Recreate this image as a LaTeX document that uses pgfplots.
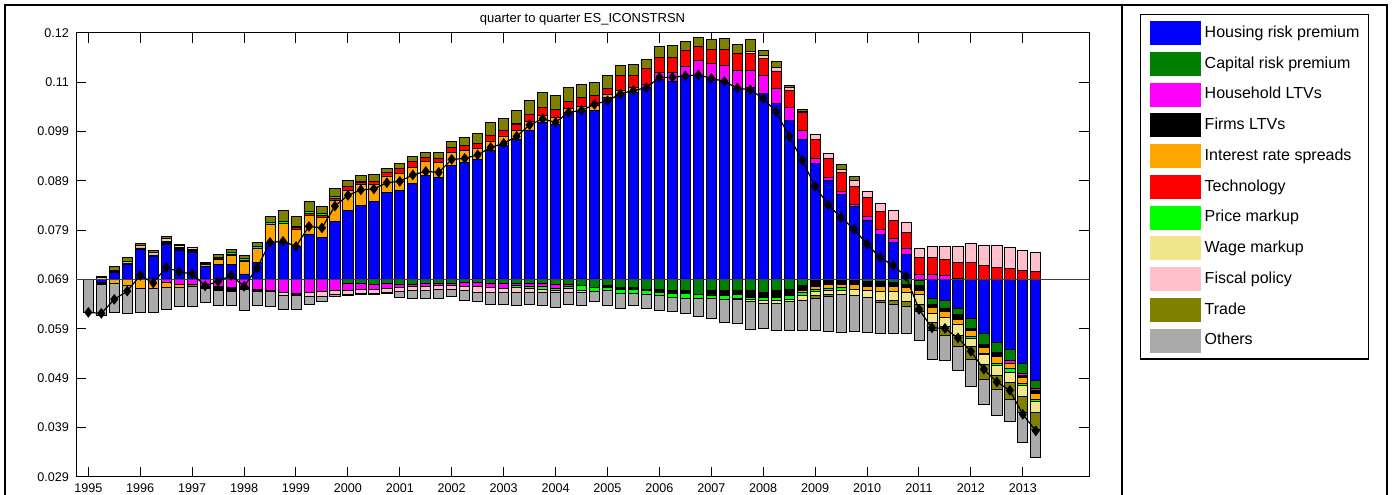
\documentclass[border=0pt]{standalone}
\usepackage{fontspec}
\setmainfont{Liberation Sans}
\usepackage{pgfplots}
\usepackage{pgfplotstable}
\pgfplotsset{compat=1.18}
\definecolor{cHouse}{RGB}{0,0,255}
\definecolor{cCap}{RGB}{0,128,0}
\definecolor{cHhl}{RGB}{255,0,255}
\definecolor{cFirm}{RGB}{0,0,0}
\definecolor{cIR}{RGB}{255,165,0}
\definecolor{cTech}{RGB}{255,0,0}
\definecolor{cPM}{RGB}{0,255,0}
\definecolor{cWM}{RGB}{240,230,140}
\definecolor{cFP}{RGB}{255,192,203}
\definecolor{cTR}{RGB}{128,128,0}
\definecolor{cOth}{RGB}{170,170,170}
% positive contributions above the steady state B = 0.069; L = level of the series (black line)
\pgfplotstableread{
x B L H C HL FL IR T PM WM FP TR O
0 0.069 0.06231 0 0 0 0 0 0 0 0 0 0 0
1 0.069 0.06211 0 0 0 0 0 0 0 0 0.00041 0.00020 0
2 0.069 0.06495 0.00142 0 0 0.00020 0 0 0 0 0.00030 0.00061 0
3 0.069 0.06663 0.00304 0 0 0.00030 0 0 0 0 0.00030 0.00081 0
4 0.069 0.06981 0.00608 0 0 0.00030 0 0 0 0 0.00051 0.00041 0
5 0.069 0.06829 0.00466 0 0 0.00030 0 0 0 0 0.00051 0.00041 0
6 0.069 0.07143 0.00709 0 0 0.00061 0 0 0 0 0.00061 0.00041 0
7 0.069 0.07052 0.00594 0 0 0.00030 0 0 0.00026 0 0.00041 0.00018 0
8 0.069 0.07011 0.00547 0 0 0.00051 0 0 0 0 0.00051 0 0
9 0.069 0.06768 0.00253 0 0 0 0.00047 0 0.00016 0 0 0.00034 0
10 0.069 0.06859 0.00304 0 0 0 0.00111 0.00020 0.00020 0 0 0.00045 0
11 0.069 0.06981 0.00304 0 0 0 0.00176 0.00034 0.00026 0 0 0.00067 0
12 0.069 0.06758 0.00111 0 0 0 0.00249 0.00034 0.00026 0 0 0.00071 0
13 0.069 0.07129 0.00345 0 0 0 0.00284 0 0.00034 0 0 0.00087 0
14 0.069 0.07650 0.00750 0 0 0 0.00365 0 0.00030 0 0 0.00138 0
15 0.069 0.07670 0.00750 0 0 0 0.00385 0 0.00034 0 0 0.00223 0
16 0.069 0.07569 0.00663 0 0 0 0.00351 0.00030 0.00034 0 0 0.00203 0
17 0.069 0.07974 0.00906 0 0 0 0.00391 0.00047 0.00034 0 0 0.00209 0
18 0.069 0.07944 0.00845 0 0 0 0.00405 0.00055 0.00034 0 0 0.00146 0
19 0.069 0.08386 0.01176 0 0 0 0.00420 0.00055 0.00034 0 0 0.00154 0
20 0.069 0.08603 0.01393 0 0 0 0.00405 0.00081 0 0 0 0.00134 0
21 0.069 0.08714 0.01506 0 0 0 0.00411 0.00041 0.00034 0 0 0.00116 0
22 0.069 0.08734 0.01575 0 0 0 0.00359 0.00061 0 0 0 0.00128 0
23 0.069 0.08860 0.01757 0 0 0 0.00339 0.00075 0 0 0 0.00073 0
24 0.069 0.08886 0.01798 0 0 0 0.00345 0.00101 0 0 0 0.00114 0
25 0.069 0.09018 0.01946 0 0 0 0.00324 0.00114 0 0 0 0.00116 0
26 0.069 0.09089 0.02102 0 0 0 0.00290 0.00087 0 0 0 0.00101 0
27 0.069 0.09069 0.02068 0 0 0 0.00310 0.00081 0 0 0 0.00109 0
28 0.069 0.09332 0.02305 0 0 0 0.00264 0.00107 0 0 0 0.00116 0
29 0.069 0.09353 0.02372 0 0 0 0.00243 0.00107 0 0 0 0.00156 0
30 0.069 0.09424 0.02438 0 0 0 0.00217 0.00107 0 0 0 0.00197 0
31 0.069 0.09576 0.02609 0 0 0 0.00197 0.00122 0 0 0 0.00261 0
32 0.069 0.09657 0.02710 0 0 0 0.00197 0.00122 0 0 0 0.00235 0
33 0.069 0.09799 0.02844 0 0 0 0.00176 0.00128 0 0.00020 0 0.00264 0
34 0.069 0.10032 0.03026 0 0 0 0.00176 0.00136 0 0 0 0.00296 0
35 0.069 0.10153 0.03182 0 0 0 0.00150 0.00150 0 0 0 0.00302 0
36 0.069 0.10082 0.03148 0 0 0 0.00136 0.00156 0 0 0 0.00296 0
37 0.069 0.10285 0.03385 0 0 0 0.00087 0.00136 0 0 0 0.00284 0
38 0.069 0.10326 0.03420 0 0 0 0.00081 0.00195 0 0 0 0.00264 0
39 0.069 0.10447 0.03420 0 0 0 0.00101 0.00203 0 0 0 0.00270 0
40 0.069 0.10522 0.03689 0 0 0 0.00067 0.00116 0 0 0 0.00270 0
41 0.069 0.10660 0.03756 0 0 0 0.00067 0.00304 0 0 0 0.00217 0
42 0.069 0.10731 0.03790 0 0 0 0.00101 0.00249 0 0 0 0.00223 0
43 0.069 0.10782 0.03892 0 0.00067 0 0 0.00310 0 0 0 0.00197 0
44 0.069 0.10995 0.04060 0 0.00136 0 0 0.00304 0 0 0 0.00217 0
45 0.069 0.10995 0.04007 0 0.00189 0 0 0.00304 0 0 0 0.00237 0
46 0.069 0.11025 0.04129 0 0.00189 0 0 0.00318 0 0 0 0.00182 0
47 0.069 0.11045 0.04141 0 0.00290 0 0 0.00290 0 0 0 0.00178 0
48 0.069 0.10974 0.04060 0 0.00310 0 0 0.00298 0 0 0 0.00203 0
49 0.069 0.10913 0.03993 0 0.00339 0 0 0.00324 0 0 0 0.00229 0
50 0.069 0.10778 0.03878 0 0.00359 0 0 0.00351 0 0 0 0.00182 0
51 0.069 0.10741 0.03892 0 0.00351 0 0 0.00339 0 0 0.00047 0.00231 0
52 0.069 0.10569 0.03776 0 0.00351 0 0 0.00345 0 0 0.00067 0.00109 0
53 0.069 0.10295 0.03568 0 0.00298 0 0 0.00359 0 0 0.00067 0.00128 0
54 0.069 0.09799 0.03229 0 0.00264 0 0 0.00330 0 0 0.00067 0.00049 0
55 0.069 0.09312 0.02844 0 0.00176 0 0 0.00371 0 0 0.00020 0.00041 0
56 0.069 0.08785 0.02357 0 0.00095 0 0 0.00385 0 0 0.00095 0 0
57 0.069 0.08410 0.02001 0 0.00061 0 0 0.00391 0 0 0.00107 0 0
58 0.069 0.08157 0.01729 0 0.00047 0 0 0.00385 0 0 0.00067 0.00109 0
59 0.069 0.07914 0.01480 0 0.00041 0 0 0.00371 0 0 0.00107 0.00095 0
60 0.069 0.07616 0.01202 0 0.00081 0 0 0.00371 0 0 0.00136 0 0
61 0.069 0.07346 0.00918 0 0.00101 0 0 0.00359 0 0 0.00162 0 0
62 0.069 0.07184 0.00750 0 0.00087 0 0 0.00351 0 0 0.00205 0 0
63 0.069 0.06961 0.00501 0 0.00136 0 0 0.00318 0 0 0.00201 0 0
64 0.069 0.06292 0 0 0.00101 0 0 0.00345 0 0 0.00176 0 0
65 0.069 0.05917 0 0 0.00101 0 0 0.00339 0 0 0.00223 0 0
66 0.069 0.05907 0 0 0.00075 0 0 0.00324 0 0 0.00264 0 0
67 0.069 0.05714 0 0 0.00020 0 0 0.00324 0 0 0.00318 0 0
68 0.069 0.05441 0 0 0 0 0 0.00345 0 0 0.00385 0 0
69 0.069 0.05076 0 0 0 0 0 0.00290 0 0 0.00405 0 0
70 0.069 0.04822 0 0 0 0 0 0.00243 0 0 0.00440 0 0
71 0.069 0.04650 0 0 0 0 0 0.00223 0 0 0.00426 0 0
72 0.069 0.04164 0 0 0 0 0 0.00189 0 0 0.00405 0 0
73 0.069 0.03829 0 0 0 0 0 0.00162 0 0 0.00379 0 0
}\postab
% negative contributions, given as their size below 0.069;
% Bot = lower end of each negative stack (= 0.069 minus the sizes)
\pgfplotstableread{
x Bot O TR FP WM PM T IR FL HL C H
0 0.06231 0.00669 0 0 0 0 0 0 0 0 0 0
1 0.06164 0.00634 0 0 0 0 0 0 0.00041 0 0 0.00061
2 0.06231 0.00594 0 0 0 0 0 0.00075 0 0 0 0
3 0.06216 0.00568 0 0 0 0 0 0.00116 0 0 0 0
4 0.06238 0.00486 0 0 0 0 0 0.00176 0 0 0 0
5 0.06232 0.00486 0 0 0 0 0 0.00182 0 0 0 0
6 0.06286 0.00446 0 0 0 0 0 0.00107 0 0.00061 0 0
7 0.06345 0.00385 0 0 0 0 0 0.00075 0 0.00095 0 0
8 0.06360 0.00399 0.00034 0 0 0 0 0 0 0.00107 0 0
9 0.06433 0.00274 0 0 0 0 0 0 0.00051 0.00142 0 0
10 0.06381 0.00290 0 0 0 0 0 0 0.00081 0.00148 0 0
11 0.06379 0.00284 0 0 0 0 0 0 0.00075 0.00162 0 0
12 0.06271 0.00416 0 0 0 0 0 0 0.00051 0.00162 0 0
13 0.06366 0.00284 0 0 0 0 0 0 0.00041 0.00209 0 0
14 0.06353 0.00296 0 0 0 0 0 0 0.00034 0.00217 0 0
15 0.06285 0.00284 0 0.00067 0 0 0 0 0 0.00264 0 0
16 0.06291 0.00290 0 0 0 0 0 0 0.00041 0.00278 0 0
17 0.06387 0.00162 0 0.00087 0 0 0 0 0 0.00264 0 0
18 0.06455 0.00095 0 0.00101 0 0 0 0 0 0.00249 0 0
19 0.06549 0.00055 0 0.00067 0 0 0 0 0 0.00229 0 0
20 0.06582 0.00020 0 0.00081 0 0 0 0 0 0.00142 0.00075 0
21 0.06602 0.00020 0 0.00081 0 0 0 0 0 0.00122 0.00075 0
22 0.06603 0.00020 0 0.00075 0 0 0 0 0 0.00107 0.00095 0
23 0.06623 0.00014 0 0.00081 0 0 0 0 0 0.00107 0.00075 0
24 0.06535 0.00122 0 0.00081 0 0 0 0 0 0.00067 0.00095 0
25 0.06515 0.00154 0 0.00081 0 0 0 0 0 0.00055 0.00095 0
26 0.06515 0.00170 0 0.00067 0 0 0 0 0 0.00067 0.00081 0
27 0.06514 0.00189 0 0.00067 0 0 0 0 0 0.00055 0.00075 0
28 0.06555 0.00136 0 0.00081 0 0 0 0 0 0.00047 0.00081 0
29 0.06480 0.00191 0 0.00087 0 0 0 0 0 0.00081 0.00061 0
30 0.06454 0.00182 0 0.00122 0 0 0 0 0 0.00081 0.00061 0
31 0.06400 0.00237 0 0.00101 0 0 0 0 0 0.00081 0.00081 0
32 0.06400 0.00237 0 0.00087 0 0 0 0 0 0.00095 0.00081 0
33 0.06379 0.00257 0 0.00101 0 0.00041 0 0 0 0.00047 0.00075 0
34 0.06399 0.00237 0 0.00087 0 0.00041 0 0 0 0.00061 0.00075 0
35 0.06379 0.00259 0 0.00067 0 0.00047 0 0 0 0.00067 0.00081 0
36 0.06333 0.00304 0 0.00047 0 0.00034 0 0 0 0.00087 0.00095 0
37 0.06387 0.00249 0 0.00087 0 0.00041 0 0 0 0.00041 0.00095 0
38 0.06366 0.00272 0 0.00047 0 0.00087 0 0 0 0 0.00128 0
39 0.06448 0.00209 0 0 0 0.00081 0 0 0 0 0.00162 0
40 0.06379 0.00292 0 0 0 0.00067 0 0 0.00034 0 0.00128 0
41 0.06319 0.00298 0 0 0 0.00087 0 0 0.00034 0 0.00162 0
42 0.06368 0.00249 0 0 0 0.00087 0 0 0.00034 0 0.00162 0
43 0.06318 0.00284 0 0 0 0.00067 0 0 0.00034 0 0.00197 0
44 0.06277 0.00292 0 0 0 0.00067 0 0 0.00055 0 0.00209 0
45 0.06251 0.00286 0 0 0 0.00087 0 0 0.00047 0 0.00229 0
46 0.06211 0.00304 0 0 0 0.00101 0 0 0.00055 0 0.00229 0
47 0.06150 0.00365 0 0 0 0.00087 0 0 0 0 0.00298 0
48 0.06110 0.00407 0 0 0 0.00067 0 0 0.00087 0 0.00229 0
49 0.06029 0.00474 0 0 0 0.00067 0 0 0.00101 0 0.00229 0
50 0.06008 0.00489 0 0 0.00020 0.00087 0 0 0.00067 0 0.00229 0
51 0.05879 0.00568 0 0 0.00041 0.00047 0 0 0.00148 0 0.00217 0
52 0.05912 0.00501 0 0 0.00067 0.00055 0 0.00020 0.00081 0 0.00264 0
53 0.05872 0.00541 0 0 0.00067 0.00055 0 0 0.00136 0 0.00229 0
54 0.05857 0.00588 0 0 0.00055 0.00067 0 0 0.00136 0 0.00197 0
55 0.05861 0.00622 0 0 0.00087 0.00067 0 0.00034 0.00101 0 0.00128 0
56 0.05859 0.00665 0.00047 0 0.00087 0.00047 0 0.00047 0.00148 0 0 0
57 0.05840 0.00709 0.00041 0 0.00081 0.00055 0 0.00067 0.00107 0 0 0
58 0.05818 0.00770 0 0 0.00095 0.00055 0 0.00067 0.00095 0 0 0
59 0.05846 0.00722 0 0 0.00136 0 0 0.00101 0.00095 0 0 0
60 0.05826 0.00709 0 0 0.00136 0 0 0.00081 0.00107 0 0.00041 0
61 0.05806 0.00628 0.00047 0 0.00176 0 0 0.00095 0.00107 0 0.00041 0
62 0.05805 0.00596 0.00067 0 0.00189 0 0 0.00095 0.00087 0 0.00061 0
63 0.05807 0.00553 0.00101 0 0.00176 0 0 0.00101 0.00067 0 0.00095 0
64 0.05658 0.00600 0.00136 0 0.00203 0 0 0.00087 0.00101 0 0.00095 0.00020
65 0.05271 0.00588 0.00168 0 0.00189 0 0 0.00116 0.00067 0 0.00116 0.00385
66 0.05257 0.00503 0.00182 0 0.00189 0 0 0.00122 0.00067 0 0.00148 0.00432
67 0.05049 0.00484 0.00223 0 0.00223 0 0 0.00116 0.00087 0 0.00136 0.00582
68 0.04726 0.00551 0.00257 0 0.00168 0.00034 0 0.00122 0.00055 0 0.00203 0.00784
69 0.04371 0.00507 0.00290 0 0.00203 0.00034 0 0.00116 0.00055 0 0.00229 0.01095
70 0.04148 0.00529 0.00270 0 0.00217 0.00041 0 0.00128 0.00087 0 0.00203 0.01277
71 0.04015 0.00458 0.00339 0 0.00203 0.00081 0 0.00107 0 0.00061 0.00223 0.01413
72 0.03588 0.00614 0.00318 0 0.00223 0.00047 0 0.00122 0.00047 0.00041 0.00197 0.01703
73 0.03290 0.00574 0.00339 0 0.00223 0.00047 0 0.00116 0.00067 0.00041 0.00162 0.02041
}\negtab
\pgfplotsset{
  sbar/.style={draw=black, line width=0.4pt, fill=#1},
  hidebar/.style={draw=none, fill=none, opacity=0},
  common/.style={at={(38pt,8.65pt)}, anchor=south west, scale only axis,
    width=506.5pt, height=222pt, xmin=-0.95, xmax=77.1, ymin=0.029, ymax=0.119},
}
\begin{document}
\begin{tikzpicture}
\path[use as bounding box] (0,0) rectangle (697.5pt,247pt);
\draw[line width=0.9pt] (2.3pt,-2pt) -- (2.3pt,244.6pt) -- (693.3pt,244.6pt) -- (693.3pt,-2pt);
\draw[line width=0.9pt] (560.8pt,-2pt) -- (560.8pt,244.6pt);
% negative contributions: stacked upward from their lower end to 0.069
\begin{axis}[common, ybar stacked, bar width=0.78,
  xtick={0,4,8,12,16,20,24,28,32,36,40,44,48,52,56,60,64,68,72},
  xticklabels={1995,1996,1997,1998,1999,2000,2001,2002,2003,2004,2005,2006,2007,2008,2009,2010,2011,2012,2013},
  ytick={0.029,0.039,0.049,0.059,0.069,0.079,0.089,0.099,0.109,0.119},
  yticklabels={0.029,0.039,0.049,0.059,0.069,0.079,0.089,0.099,0.11,0.12},
  scaled y ticks=false,
  tick align=inside, major tick length=5pt,
  tick style={black, line width=0.5pt},
  axis line style={black, line width=0.5pt},
  tick label style={font=\fontsize{6.3}{7.5}\selectfont},
  /pgf/number format/assume math mode=true,
  title={quarter to quarter ES\_ICONSTRSN},
  every axis title shift=5pt,
  title style={anchor=base, font=\fontsize{6.5}{7.8}\selectfont},
]
\addplot[hidebar] table[x=x,y=Bot]{\negtab};
\addplot[sbar=cOth] table[x=x,y=O]{\negtab};
\addplot[sbar=cTR] table[x=x,y=TR]{\negtab};
\addplot[sbar=cFP] table[x=x,y=FP]{\negtab};
\addplot[sbar=cWM] table[x=x,y=WM]{\negtab};
\addplot[sbar=cPM] table[x=x,y=PM]{\negtab};
\addplot[sbar=cTech] table[x=x,y=T]{\negtab};
\addplot[sbar=cIR] table[x=x,y=IR]{\negtab};
\addplot[sbar=cFirm] table[x=x,y=FL]{\negtab};
\addplot[sbar=cHhl] table[x=x,y=HL]{\negtab};
\addplot[sbar=cCap] table[x=x,y=C]{\negtab};
\addplot[sbar=cHouse] table[x=x,y=H]{\negtab};
\end{axis}
% positive contributions: stacked upward from 0.069
\begin{axis}[common, hide axis, ybar stacked, bar width=0.78]
\addplot[hidebar] table[x=x,y=B]{\postab};
\addplot[sbar=cHouse] table[x=x,y=H]{\postab};
\addplot[sbar=cCap] table[x=x,y=C]{\postab};
\addplot[sbar=cHhl] table[x=x,y=HL]{\postab};
\addplot[sbar=cFirm] table[x=x,y=FL]{\postab};
\addplot[sbar=cIR] table[x=x,y=IR]{\postab};
\addplot[sbar=cTech] table[x=x,y=T]{\postab};
\addplot[sbar=cPM] table[x=x,y=PM]{\postab};
\addplot[sbar=cWM] table[x=x,y=WM]{\postab};
\addplot[sbar=cFP] table[x=x,y=FP]{\postab};
\addplot[sbar=cTR] table[x=x,y=TR]{\postab};
\addplot[sbar=cOth] table[x=x,y=O]{\postab};
\end{axis}
% baseline, total line, legend
\begin{axis}[common, hide axis,
  legend style={at={(1.05035,1.04212)}, anchor=north west, draw=black, line width=0.7pt,
    font=\fontsize{8}{9.6}\selectfont, inner xsep=4.5pt, inner ysep=3.2pt,
    row sep=3.37pt, column sep=2pt, nodes={inner sep=0pt}},
  legend cell align=left,
  legend image code/.code={\path[#1, draw=none] (0pt,-6pt) rectangle (25.5pt,6pt);},
]
\addlegendimage{fill=cHouse}\addlegendentry{Housing risk premium}
\addlegendimage{fill=cCap}\addlegendentry{Capital risk premium}
\addlegendimage{fill=cHhl}\addlegendentry{Household LTVs}
\addlegendimage{fill=cFirm}\addlegendentry{Firms LTVs}
\addlegendimage{fill=cIR}\addlegendentry{Interest rate spreads}
\addlegendimage{fill=cTech}\addlegendentry{Technology}
\addlegendimage{fill=cPM}\addlegendentry{Price markup}
\addlegendimage{fill=cWM}\addlegendentry{Wage markup}
\addlegendimage{fill=cFP}\addlegendentry{Fiscal policy}
\addlegendimage{fill=cTR}\addlegendentry{Trade}
\addlegendimage{fill=cOth}\addlegendentry{Others}
\addplot[black!75, line width=0.4pt] coordinates {(-0.95,0.069) (77.1,0.069)};
\addplot[black, line width=0.6pt, mark=diamond*, mark size=2.2pt] table[x=x,y=L]{\postab};
\end{axis}
\end{tikzpicture}
\end{document}
